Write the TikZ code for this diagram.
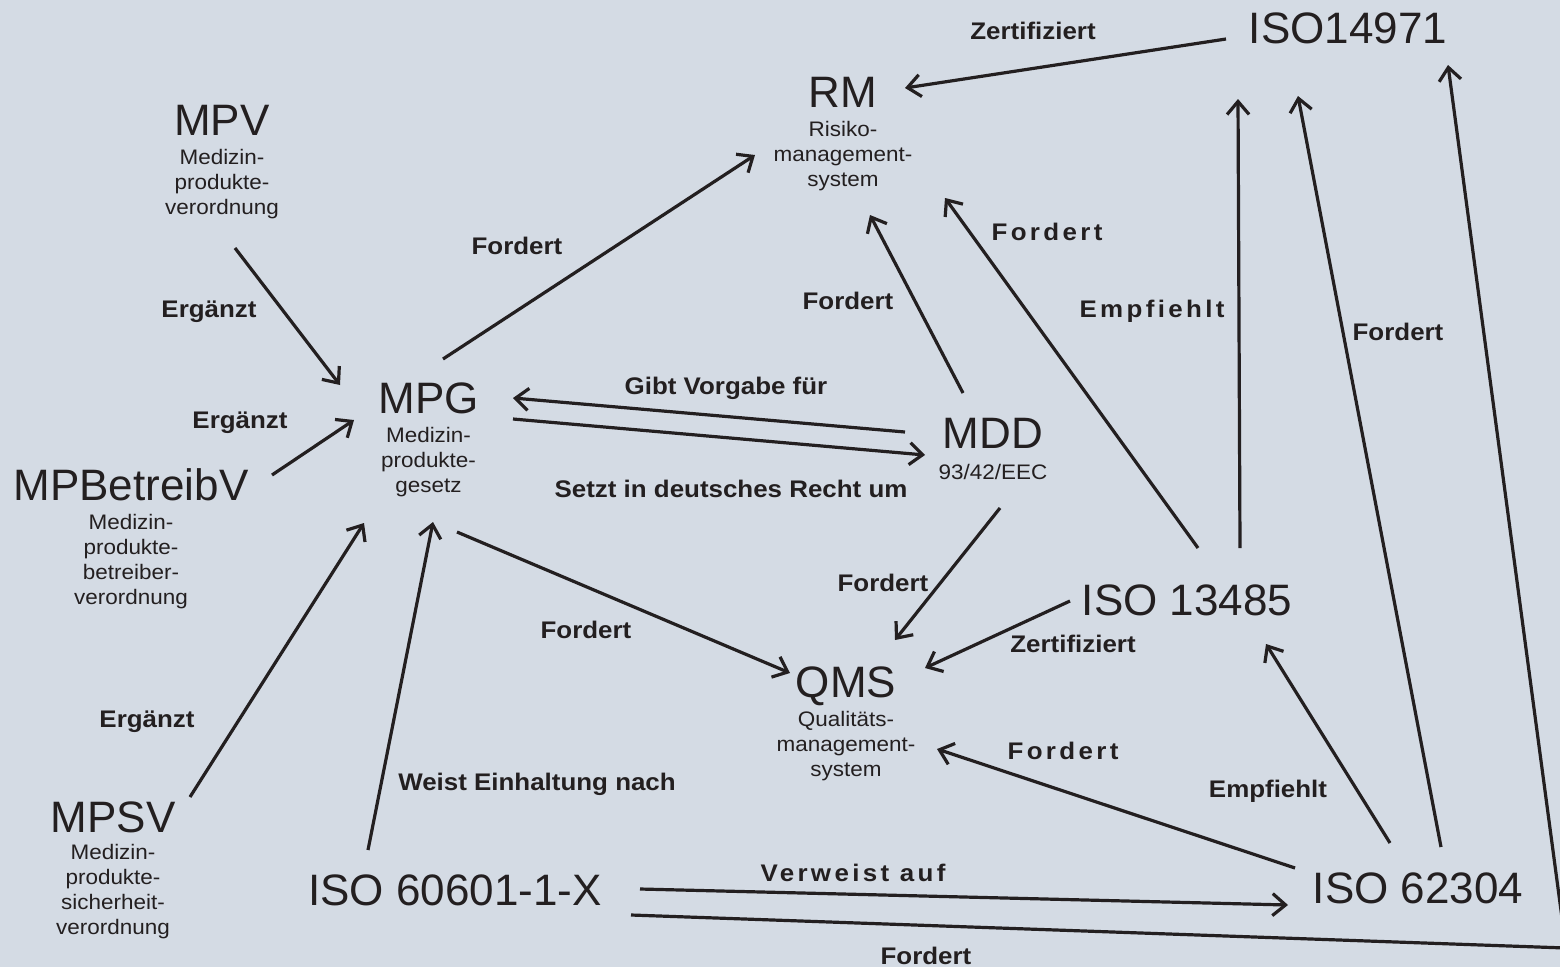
\documentclass[tikz,border=0pt]{standalone}
\usepackage{fontspec}
\setmainfont{Liberation Sans}
\newfontfamily\kleinschrift[FakeStretch=1.07]{Liberation Sans}
\newfontfamily\bezugschrift[FakeStretch=1.08]{Liberation Sans}
\newfontfamily\sperrschrift[FakeStretch=1.08,LetterSpace=14]{Liberation Sans}
\usetikzlibrary{arrows.meta}
\usetikzlibrary{calc}
\usetikzlibrary{positioning}
\definecolor{hintergrund}{RGB}{212,219,228}
\definecolor{schrift}{RGB}{35,31,32}

\begin{document}
\begin{tikzpicture}[x=1pt,y=-1pt,>={Straight Barb[length=13pt,width=22pt]},
titel/.style={font=\fontsize{44}{50}\selectfont,text=schrift,inner sep=0pt,outer sep=0pt,text height=32pt,text depth=0pt,anchor=base},
unter/.style={font=\kleinschrift\fontsize{21}{25}\selectfont,text=schrift,align=center,inner sep=0pt,outer sep=0pt},
bezug/.style={font=\bezugschrift\bfseries\fontsize{24}{28}\selectfont,text=schrift,inner sep=0pt,anchor=base},
gesperrt/.style={bezug,font=\sperrschrift\bfseries\fontsize{24}{28}\selectfont}]

\useasboundingbox (0,0) rectangle (1560,967);
\fill[hintergrund] (0,0) rectangle (1560,967);
\clip (0,0) rectangle (1560,967);

\node[titel](rm) at (843,107){RM};
\node[unter, below=14.5pt of rm](rm-text){Risiko-\\management-\\system};

\node[titel](iso14971) at (1348,43){ISO14971};

\node[titel](mpv) at (222,135){MPV};
\node[unter, below=14.5pt of mpv](mpv-text){Medizin-\\produkte-\\verordnung};

\node[titel](mpg) at (428.5,413){MPG};
\node[unter, below=14.5pt of mpg](mpg-text){Medizin-\\produkte-\\gesetz};

\node[titel](mpbv) at (131,500){MPBetreibV};
\node[unter, below=14.5pt of mpbv](mpbv-text){Medizin-\\produkte-\\betreiber-\\verordnung};

\node[titel](mdd) at (993,448){MDD};
\node[unter, below=16.5pt of mdd](mdd-text){93/42/EEC};

\node[titel](iso13485) at (1187,615){ISO 13485};

\node[titel](qms) at (846,697){QMS};
\node[unter, below=14.5pt of qms](qms-text){Qualitäts-\\management-\\system};

\node[titel](mpsv) at (113,832){MPSV};
\node[unter, below=12.5pt of mpsv](mpsv-text){Medizin-\\produkte-\\sicherheit-\\verordnung};

\node[titel](iso60601) at (455,905){ISO 60601-1-X};
\node[titel](iso62304) at (1418,903){ISO 62304};

\coordinate (ecke) at (1566,948);

\begin{scope}[->, line width=3.2pt, draw=schrift]
\draw ($(iso14971)+(-122,12)$) -- ($(rm)+(62,-3)$);
\draw ($(mpg)+(14.5,-38)$) -- ($(rm)+(-88,64)$);
\draw ($(mpv)+(13,129)$) -- ($(mpg)+(-88.5,-12)$);
\draw ($(mpbv)+(141,-9)$) -- ($(mpg)+(-74.5,23)$);
\draw ($(mpsv)+(77,-19)$) -- ($(mpg)+(-64.5,126)$);
\draw ($(iso60601)+(-87,-39)$) -- ($(mpg)+(4.5,125)$);
\draw ($(mdd)+(-88,0)$) -- ($(mpg)+(84.5,1)$);
\draw ($(mpg)+(84.5,22)$) -- ($(mdd)+(-68,23)$);
\draw ($(mdd)+(-30,-39)$) -- ($(rm)+(27,124)$);
\draw ($(mpg)+(28.5,135)$) -- ($(qms)+(-56,-8)$);
\draw ($(mdd)+(7,76)$) -- ($(qms)+(49,-41)$);
\draw ($(iso13485)+(-117,2)$) -- ($(qms)+(79,-13)$);
\draw ($(iso13485)+(11,-51)$) -- ($(rm)+(102,107)$);
\draw ($(iso13485)+(53,-51)$) -- ($(iso14971)+(-110,72)$);
\draw ($(iso62304)+(23,-40)$) -- ($(iso14971)+(-50,69)$);
\draw ($(iso62304)+(-28,-44)$) -- ($(iso13485)+(79,45)$);
\draw ($(iso62304)+(-123,-19)$) -- ($(qms)+(91,68)$);
\draw ($(iso60601)+(185,0)$) -- ($(iso62304)+(-130,18)$);
\draw ($(iso60601)+(176,26)$) -- (ecke) -- ($(iso14971)+(100,38)$);
\end{scope}

\node[bezug](zert-rm) at (1033,39){Zertifiziert};
\node[bezug](ford-mpg-rm) at (517,254){Fordert};
\node[bezug](erg-mpv) at (209,317){Ergänzt};
\node[bezug](erg-mpbv) at (240,428){Ergänzt};
\node[bezug](erg-mpsv) at (147,727){Ergänzt};
\node[bezug](weist) at (537,790){Weist Einhaltung nach};
\node[bezug](vorgabe) at (726,394){Gibt Vorgabe für};
\node[bezug](setzt) at (731,497){Setzt in deutsches Recht um};
\node[bezug](ford-mdd-rm) at (848,309){Fordert};
\node[bezug](ford-mpg-qms) at (586,638){Fordert};
\node[bezug](ford-mdd-qms) at (883,591){Fordert};
\node[bezug](zert-qms) at (1073,652){Zertifiziert};
\node[gesperrt](ford-13485-rm) at (1047,240){Fordert};
\node[gesperrt](empf-13485) at (1152,317){Empfiehlt};
\node[bezug](ford-62304-14971) at (1398,340){Fordert};
\node[bezug](empf-62304) at (1268,797){Empfiehlt};
\node[gesperrt](ford-62304-qms) at (1063,759){Fordert};
\node[gesperrt](verweist) at (853,881){Verweist auf};
\node[bezug](ford-60601) at (926,964){Fordert};

\end{tikzpicture}
\end{document}
